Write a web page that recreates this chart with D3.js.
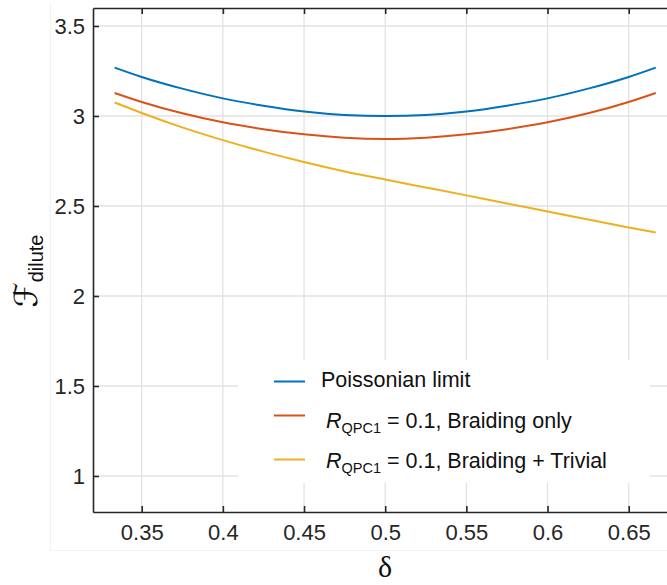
<!DOCTYPE html>
<html>
<head>
<meta charset="utf-8">
<script src="https://cdn.jsdelivr.net/npm/d3@7"></script>
<style>
  html, body { margin: 0; padding: 0; background: #fff; }
  svg { display: block; }
</style>
</head>
<body>
<svg id="chart" width="667" height="585"></svg>
<script>
// ---- data ----
const delta    = [1/3, 0.35, 0.375, 0.4, 0.425, 0.45, 0.475, 0.5, 0.525, 0.55, 0.575, 0.6, 0.625, 0.65, 2/3];
const poisson  = [3.269, 3.217, 3.152, 3.098, 3.057, 3.025, 3.006, 3.0, 3.006, 3.025, 3.057, 3.098, 3.152, 3.217, 3.269];
const braiding = [3.128, 3.078, 3.015, 2.965, 2.927, 2.898, 2.879, 2.872, 2.879, 2.898, 2.927, 2.965, 3.015, 3.078, 3.128];
const trivial  = [3.075, 3.017, 2.937, 2.866, 2.802, 2.744, 2.692, 2.647, 2.603, 2.559, 2.514, 2.47, 2.425, 2.381, 2.353];
const seriesNames = ["Poissonian limit", "Braiding only", "Braiding + Trivial"];
const xTicks = [0.35, 0.4, 0.45, 0.5, 0.55, 0.6, 0.65];
const yTicks = [1, 1.5, 2, 2.5, 3, 3.5];
const xTickLabels = ["0.35", "0.4", "0.45", "0.5", "0.55", "0.6", "0.65"];
const yTickLabels = ["1", "1.5", "2", "2.5", "3", "3.5"];
const colors = ["#0072BD", "#D95319", "#EDB120"];

const svg = d3.select("#chart");
const sans = "'Liberation Sans', Arial, Helvetica, sans-serif";

const x = d3.scaleLinear().domain([0.32, 0.68]).range([93, 677.4]);
const y = d3.scaleLinear().domain([0.8, 3.6]).range([512, 8]);

// faint figure frame
svg.append("path")
  .attr("d", "M50.5,4 V550.5 H667")
  .attr("fill", "none").attr("stroke", "#f1f1f1").attr("stroke-width", 1);

// grid
const grid = svg.append("g");
grid.selectAll("line.gx").data(xTicks).join("line")
  .attr("x1", d => x(d)).attr("x2", d => x(d))
  .attr("y1", y(0.8)).attr("y2", y(3.6))
  .attr("stroke", "#e2e2e2").attr("stroke-width", 1.3);
grid.selectAll("line.gy").data(yTicks).join("line")
  .attr("x1", x(0.32)).attr("x2", x(0.68))
  .attr("y1", d => y(d)).attr("y2", d => y(d))
  .attr("stroke", "#e2e2e2").attr("stroke-width", 1.3);

// lines
const lineGen = d3.line().x(d => x(d[0])).y(d => y(d[1])).curve(d3.curveMonotoneX);
const allSeries = [poisson, braiding, trivial];
svg.append("g").selectAll("path").data(allSeries).join("path")
  .attr("d", s => lineGen(delta.map((dv, i) => [dv, s[i]])))
  .attr("fill", "none")
  .attr("stroke", (s, i) => colors[i])
  .attr("stroke-width", 2)
  .attr("stroke-linejoin", "round");

// legend background
const legX = 238, legY = 360;
svg.append("rect").attr("x", legX).attr("y", legY).attr("width", 412).attr("height", 123).attr("fill", "#fff");

// axes
const axisColor = "#262626";
const xAxisB = d3.axisBottom(x).tickValues(xTicks).tickFormat((d, i) => xTickLabels[i]).tickSizeInner(-6).tickSizeOuter(0).tickPadding(12);
const xAxisT = d3.axisTop(x).tickValues(xTicks).tickFormat("").tickSizeInner(-6).tickSizeOuter(0);
const yAxisL = d3.axisLeft(y).tickValues(yTicks).tickFormat((d, i) => yTickLabels[i]).tickSizeInner(-6).tickSizeOuter(0).tickPadding(8);

function styleAxis(g) {
  g.select(".domain").attr("stroke", axisColor).attr("stroke-width", 1.6);
  g.selectAll(".tick line").attr("stroke", axisColor).attr("stroke-width", 1.6);
  g.selectAll(".tick text").attr("fill", "#262626").attr("font-family", sans).attr("font-size", 22);
}
svg.append("g").attr("transform", `translate(0,${y(0.8)})`).call(xAxisB).call(styleAxis);
svg.append("g").attr("transform", `translate(0,${y(3.6)})`).call(xAxisT).call(styleAxis);
svg.append("g").attr("transform", `translate(${x(0.32)},0)`).call(yAxisL).call(styleAxis);

// legend
const rowsY = [381.5, 415.5, 459.5];
const baseY = [387, 427.5, 467.5];
const leg = svg.append("g");
rowsY.forEach((ry, i) => {
  leg.append("line").attr("x1", 274).attr("x2", 305).attr("y1", ry).attr("y2", ry)
    .attr("stroke", colors[i]).attr("stroke-width", 2);
});
leg.append("text").attr("x", 321).attr("y", baseY[0])
  .attr("font-family", sans).attr("font-size", 21.5).attr("fill", "#111")
  .text(seriesNames[0]);
[1, 2].forEach(i => {
  const t = leg.append("text").attr("x", 326).attr("y", baseY[i])
    .attr("font-family", sans).attr("font-size", 21.5).attr("fill", "#111");
  t.append("tspan").attr("font-style", "italic").text("R");
  t.append("tspan").attr("font-size", 14.5).attr("dy", 5).text("QPC1");
  t.append("tspan").attr("dy", -5).text(" = 0.1, " + seriesNames[i]);
});

// axis labels
svg.append("text").attr("x", 385).attr("y", 577).attr("text-anchor", "middle")
  .attr("font-family", "'Liberation Serif', 'Times New Roman', serif").attr("font-size", 30).attr("fill", "#111")
  .text("δ");
const yl = svg.append("text").attr("transform", "translate(37,271) rotate(-90)").attr("text-anchor", "middle")
  .attr("font-family", sans).attr("fill", "#111");
yl.append("tspan").attr("font-family", "'DejaVu Sans', sans-serif").attr("font-size", 32).text("ℱ");
yl.append("tspan").attr("font-size", 20).attr("dy", 6).text("dilute");
</script>
</body>
</html>
